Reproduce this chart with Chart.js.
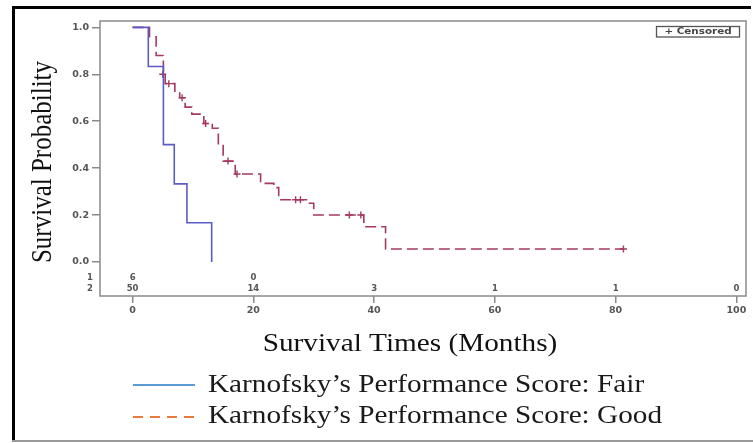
<!DOCTYPE html>
<html>
<head>
<meta charset="utf-8">
<script src="https://cdn.jsdelivr.net/npm/chart.js@4.4.1/dist/chart.umd.min.js"></script>
<style>
html,body{margin:0;padding:0;background:#fff;}
canvas{display:block;}
</style>
</head>
<body>
<canvas id="c" width="753" height="443"></canvas>
<script>
// ---- data ----
const xTicks = [0, 20, 40, 60, 80, 100];
const yTicks = [0, 0.2, 0.4, 0.6, 0.8, 1.0];

const fairTimes  = [0, 2.6, 5.1, 6.9, 9.0, 13.1];
const fairValues = [1.0, 0.833, 0.5, 0.333, 0.167, 0.0];

const goodTimes  = [0, 2.8, 3.9, 5.1, 5.4, 7.0, 7.8, 8.7, 9.8, 11.8, 13.2, 14.2, 15.0, 17.0, 21.2, 23.4, 24.2, 28.8, 30.0, 38.3, 41.9, 81.3];
const goodValues = [1.0, 0.96, 0.88, 0.80, 0.76, 0.72, 0.70, 0.66, 0.63, 0.59, 0.57, 0.50, 0.43, 0.375, 0.335, 0.317, 0.265, 0.25, 0.20, 0.15, 0.055, 0.055];

const censorTimes  = [5.0, 6.0, 8.2, 12.1, 15.8, 17.3, 27.0, 27.8, 35.9, 37.8, 81.3];
const censorValues = [0.80, 0.76, 0.70, 0.59, 0.43, 0.375, 0.265, 0.265, 0.20, 0.20, 0.055];

const riskLabels = ['1', '2'];
const riskTimes1  = [0, 20];
const riskCounts1 = [6, 0];
const riskTimes2  = [0, 20, 40, 60, 80, 100];
const riskCounts2 = [50, 14, 3, 1, 1, 0];

const seriesNames = ['Karnofsky\u2019s Performance Score: Fair', 'Karnofsky\u2019s Performance Score: Good'];
const xTitle = 'Survival Times (Months)';
const yTitle = 'Survival Probability';
const censorLabel = '+ Censored';

// ---- styles ----
const fairColor = '#5c5cc6';
const goodColor = '#a53a5c';
const frameColor = '#8a8a8a';
const sansFam = 'DejaVu Sans, Verdana, sans-serif';
const serifFont = '25px Liberation Serif, Times New Roman, serif';
const stretch = 1.17;
const tickFont = {family: sansFam, size: 9.5, weight: 'bold'};

const toXY = (ts, vs) => ts.map((t, i) => ({x: t, y: vs[i]}));

function stretchedText(ctx, txt, x, y, sx) {
  ctx.save();
  ctx.translate(x, y);
  ctx.scale(sx, 1);
  ctx.fillText(txt, 0, 0);
  ctx.restore();
}

const extras = {
  id: 'extras',
  afterDraw(chart) {
    const ctx = chart.ctx;
    const a = chart.chartArea;
    const xs = chart.scales.x;
    ctx.save();
    // plot frame
    ctx.strokeStyle = frameColor;
    ctx.lineWidth = 1.5;
    ctx.strokeRect(a.left, a.top, a.right - a.left, a.bottom - a.top);

    // at-risk table
    ctx.fillStyle = '#555';
    ctx.font = 'bold 8.5px ' + sansFam;
    ctx.textBaseline = 'middle';
    const rowY = [277.5, 288.5];
    ctx.textAlign = 'right';
    ctx.fillText(riskLabels[0], 93, rowY[0]);
    ctx.fillText(riskLabels[1], 93, rowY[1]);
    ctx.textAlign = 'center';
    riskTimes1.forEach((t, i) => ctx.fillText(String(riskCounts1[i]), xs.getPixelForValue(t), rowY[0]));
    riskTimes2.forEach((t, i) => ctx.fillText(String(riskCounts2[i]), xs.getPixelForValue(t), rowY[1]));

    // censored legend box
    ctx.strokeStyle = '#555';
    ctx.lineWidth = 1.3;
    ctx.strokeRect(656.5, 26.5, 83, 10.5);
    ctx.fillStyle = '#444';
    ctx.font = 'bold 8.5px ' + sansFam;
    ctx.textAlign = 'center';
    stretchedText(ctx, censorLabel, 698, 32, 1.22);

    // axis titles
    ctx.fillStyle = '#111';
    ctx.font = serifFont;
    ctx.textAlign = 'center';
    ctx.textBaseline = 'middle';
    stretchedText(ctx, xTitle, 410, 344, stretch);
    ctx.save();
    ctx.translate(43, 162);
    ctx.scale(stretch, 1);
    ctx.rotate(-Math.PI / 2);
    ctx.fillText(yTitle, 0, 0);
    ctx.restore();

    // series legend
    ctx.textAlign = 'left';
    ctx.lineWidth = 2;
    ctx.strokeStyle = '#5b9bd5';
    ctx.beginPath(); ctx.moveTo(133, 385); ctx.lineTo(195, 385); ctx.stroke();
    ctx.strokeStyle = '#e87a3a';
    ctx.setLineDash([10, 7]);
    ctx.beginPath(); ctx.moveTo(133, 417); ctx.lineTo(196, 417); ctx.stroke();
    ctx.setLineDash([]);
    ctx.fillStyle = '#1a1a1a';
    stretchedText(ctx, seriesNames[0], 208, 385, stretch);
    stretchedText(ctx, seriesNames[1], 208, 416, stretch);

    // outer border
    ctx.fillStyle = '#000';
    ctx.fillRect(12, 6, 739, 3);
    ctx.fillRect(12, 6, 3, 436);
    ctx.fillStyle = '#9a9a9a';
    ctx.fillRect(12, 440, 741, 2);
    ctx.restore();
  }
};

new Chart(document.getElementById('c'), {
  type: 'scatter',
  data: {
    datasets: [
      {
        label: seriesNames[0],
        data: toXY(fairTimes, fairValues),
        showLine: true, stepped: true,
        borderColor: fairColor, borderWidth: 1.6,
        pointRadius: 0, fill: false
      },
      {
        label: seriesNames[1],
        data: toXY(goodTimes, goodValues),
        showLine: true, stepped: true,
        borderColor: goodColor, borderWidth: 1.6, borderDash: [11, 5],
        pointRadius: 0, fill: false
      },
      {
        label: 'Censored',
        data: toXY(censorTimes, censorValues),
        showLine: false,
        pointStyle: 'cross', pointRadius: 3.5, borderWidth: 1.4,
        borderColor: goodColor, backgroundColor: goodColor
      }
    ]
  },
  options: {
    responsive: false,
    animation: false,
    devicePixelRatio: 1,
    layout: {padding: {left: 0, top: 21, right: 7, bottom: 0}},
    plugins: {legend: {display: false}, tooltip: {enabled: false}},
    scales: {
      x: {
        type: 'linear', min: -5.4, max: 101.6,
        afterBuildTicks: s => { s.ticks = xTicks.map(v => ({value: v})); },
        afterFit: s => { s.height = 443 - 296; },
        grid: {drawOnChartArea: false, drawTicks: true, tickLength: 7, color: frameColor, lineWidth: 1.5},
        border: {display: false},
        ticks: {font: tickFont, color: '#555', padding: 2, maxRotation: 0, callback: v => String(v)}
      },
      y: {
        type: 'linear', min: -0.145, max: 1.027,
        afterBuildTicks: s => { s.ticks = yTicks.map(v => ({value: v})); },
        afterFit: s => { s.width = 100; },
        grid: {drawOnChartArea: false, drawTicks: true, tickLength: 8, color: frameColor, lineWidth: 1.5},
        border: {display: false},
        ticks: {font: tickFont, color: '#555', padding: 3, callback: v => Number(v).toFixed(1)}
      }
    }
  },
  plugins: [extras]
});
</script>
</body>
</html>
